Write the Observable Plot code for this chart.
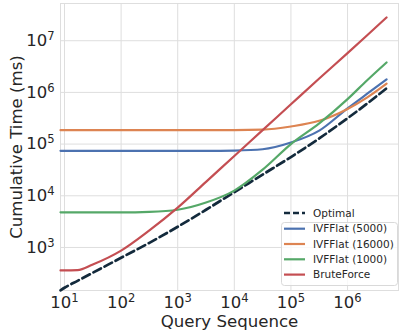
<!DOCTYPE html>
<html><head><meta charset="utf-8">
<script src="https://cdn.jsdelivr.net/npm/d3@7"></script>
<script src="https://cdn.jsdelivr.net/npm/@observablehq/plot@0.6"></script>
<style>
body{margin:0;background:#fff}
#wrap{position:relative;width:399px;height:335px}
#legend{position:absolute;left:0;top:0;pointer-events:none}
</style>
</head><body><div id="wrap"></div>
<script>
// Query sequence sample points
const queries = [8.5, 10, 17, 31.6, 100, 316, 1000, 3162, 1e4, 31623, 1e5, 316228, 1e6, 2.2e6, 4.9e6];
// Cumulative time (ms)
const optimal  = [148, 166, 226, 324, 631, 1230, 2512, 5370, 11750, 25700, 56200, 128800, 316000, 603000, 1200000];
const ivf5000  = [74000, 74000, 74000, 74000, 74000, 74000, 74000, 74000, 75000, 79400, 107000, 182000, 490000, 933000, 1780000];
const ivf16000 = [186000, 186000, 186000, 186000, 186000, 186000, 186000, 186000, 186000, 190000, 219000, 282000, 479000, 794000, 1480000];
const ivf1000  = [4790, 4790, 4790, 4790, 4790, 4900, 5370, 7400, 12600, 32000, 100000, 251000, 741000, 1700000, 3800000];
const bruteForce = [359, 359, 363, 468, 870, 2140, 5890, 18600, 58900, 186000, 589000, 1860000, 5750000, 12600000, 28200000];

const seriesNames = ["Optimal", "IVFFlat (5000)", "IVFFlat (16000)", "IVFFlat (1000)", "BruteForce"];
const seriesValues = [optimal, ivf5000, ivf16000, ivf1000, bruteForce];
const seriesColors = ["#132a3c", "#4c72b0", "#dd8452", "#55a868", "#c44e52"];
const xTicks = [10, 100, 1e3, 1e4, 1e5, 1e6];
const yTicks = [1e3, 1e4, 1e5, 1e6, 1e7];
const xLabel = "Query Sequence";
const yLabel = "Cumulative Time (ms)";

const rows = [];
seriesValues.forEach((vals, si) => vals.forEach((v, i) => rows.push({series: seriesNames[si], q: queries[i], t: v})));

const gridColor = "#dedede";
const textColor = "#262626";
const supFmt = d => "10^" + Math.round(Math.log10(d));

const chart = Plot.plot({
  width: 399, height: 335,
  marginLeft: 60, marginRight: 1, marginTop: 3, marginBottom: 45,
  style: {fontFamily: "DejaVu Sans", color: textColor, background: "#fff"},
  x: {type: "log", domain: [8.5, 7.95e6]},
  y: {type: "log", domain: [147, 5.25e7]},
  color: {domain: seriesNames, range: seriesColors},
  marks: [
    Plot.frame({stroke: gridColor}),
    Plot.gridX(xTicks, {stroke: gridColor, strokeOpacity: 1, strokeWidth: 1}),
    Plot.gridY(yTicks, {stroke: gridColor, strokeOpacity: 1, strokeWidth: 1}),
    Plot.line(rows.filter(d => d.series === "Optimal"), {x: "q", y: "t", stroke: "series", strokeWidth: 2.7, strokeDasharray: "8.5,4", curve: "monotone-x"}),
    Plot.line(rows.filter(d => d.series !== "Optimal"), {x: "q", y: "t", z: "series", stroke: "series", strokeWidth: 2.2, curve: "monotone-x"}),
    Plot.axisX(xTicks, {tickSize: 0, tickPadding: 6, tickFormat: supFmt, fontSize: 16.5, label: null}),
    Plot.axisY(yTicks, {tickSize: 0, tickPadding: 6, tickFormat: supFmt, fontSize: 16.5, label: null}),
    Plot.text([xLabel], {frameAnchor: "bottom", lineAnchor: "middle", textAnchor: "middle", dy: 31, fontSize: 16.6, fill: textColor}),
    Plot.text([yLabel], {frameAnchor: "left", lineAnchor: "middle", textAnchor: "middle", dx: -44, rotate: -90, fontSize: 16.6, fill: textColor})
  ]
});

const ns = "http://www.w3.org/2000/svg";
chart.querySelectorAll("text").forEach(t => {
  const m = t.textContent.match(/^10\^(\d+)$/);
  if (m) {
    t.textContent = "10";
    const ts = document.createElementNS(ns, "tspan");
    ts.setAttribute("dy", "-6");
    ts.setAttribute("font-size", "0.7em");
    ts.textContent = m[1];
    t.appendChild(ts);
  }
});

const wrap = document.getElementById("wrap");
wrap.appendChild(chart);

// Legend overlay
const leg = d3.select(wrap).append("svg").attr("id", "legend").attr("width", 399).attr("height", 335)
  .style("font-family", "DejaVu Sans");
leg.append("rect").attr("x", 281.5).attr("y", 222.5).attr("width", 116).attr("height", 63).attr("rx", 3)
  .attr("fill", "#fff").attr("fill-opacity", 0.8).attr("stroke", "#d9d9d9");
const rowY = [213, 228.7, 244, 259.3, 274.6];
seriesNames.forEach((name, i) => {
  leg.append("line").attr("x1", 284).attr("x2", 305).attr("y1", rowY[i]).attr("y2", rowY[i])
    .attr("stroke", seriesColors[i]).attr("stroke-width", i === 0 ? 2.7 : 2.2)
    .attr("stroke-dasharray", i === 0 ? "6,3" : null);
  leg.append("text").attr("x", 313).attr("y", rowY[i]).attr("dy", "0.35em")
    .attr("font-size", 10.5).attr("fill", textColor).text(name);
});
</script>
</body></html>
